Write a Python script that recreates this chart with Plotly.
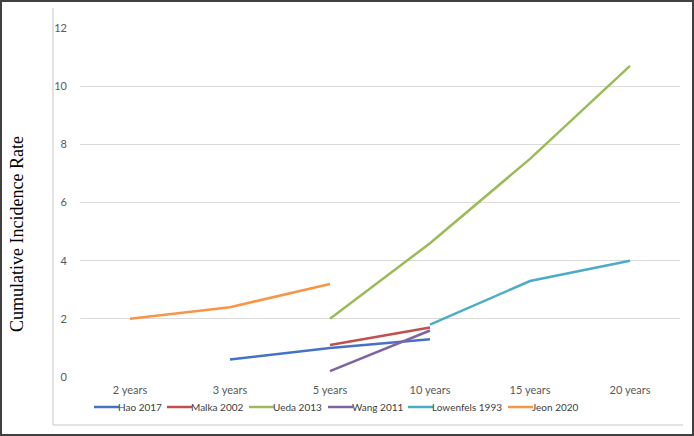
import plotly.graph_objects as go

categories = ["2 years", "3 years", "5 years", "10 years", "15 years", "20 years"]

hao_2017 = [None, 0.6, 1.0, 1.3, None, None]
malka_2002 = [None, None, 1.1, 1.7, None, None]
ueda_2013 = [None, None, 2.0, 4.6, 7.5, 10.7]
wang_2011 = [None, None, 0.2, 1.6, None, None]
lowenfels_1993 = [None, None, None, 1.8, 3.3, 4.0]
jeon_2020 = [2.0, 2.4, 3.2, None, None, None]

series = [
    ("Hao 2017", hao_2017, "#4472C4"),
    ("Malka 2002", malka_2002, "#C0504D"),
    ("Ueda 2013", ueda_2013, "#9BBB59"),
    ("Wang 2011", wang_2011, "#8064A2"),
    ("Lowenfels 1993", lowenfels_1993, "#4BACC6"),
    ("Jeon 2020", jeon_2020, "#F79646"),
]

# left edge (px) of each legend entry, as laid out in the original
legend_x = [94, 167, 249, 328, 408, 508]

W, H = 694, 436
L, R, T, B = 80, 14, 28, 59
pw, ph = W - L - R, H - T - B


def px(x):
    return (x - L) / pw


def py(y):
    return (H - B - y) / ph


fig = go.Figure()
for name, vals, color in series:
    fig.add_trace(go.Scatter(x=categories, y=vals, name=name, mode="lines",
                             line=dict(color=color, width=2.5), connectgaps=False,
                             showlegend=False))

fig.update_layout(
    width=W, height=H,
    margin=dict(l=L, r=R, t=T, b=B, autoexpand=False),
    plot_bgcolor="white", paper_bgcolor="white",
    font=dict(family="Lato, Open Sans, sans-serif", size=11, color="#595959"),
)
fig.update_xaxes(type="category", range=[-0.5, 5.5], showgrid=False, showline=False,
                 zeroline=False, ticks="", ticklabelstandoff=5)
fig.update_yaxes(range=[0, 12], dtick=2, showgrid=True, gridcolor="#D9D9D9", gridwidth=1,
                 zeroline=False, showline=False, ticks="", ticklabelstandoff=12)

fig.add_annotation(text="Cumulative Incidence Rate", xref="paper", yref="paper",
                   x=px(17), y=py(234), xanchor="center", yanchor="middle",
                   textangle=-90, showarrow=False,
                   font=dict(family="Liberation Serif, Times New Roman, serif", size=18,
                             color="#000000"))

# hand-placed legend row under the category labels
for (name, vals, color), lx in zip(series, legend_x):
    fig.add_shape(type="line", xref="paper", yref="paper", x0=px(lx), x1=px(lx + 25),
                  y0=py(407), y1=py(407), line=dict(color=color, width=2.5))
    fig.add_annotation(text=name, xref="paper", yref="paper", x=px(lx + 25), y=py(407),
                       xanchor="left", yanchor="middle", showarrow=False, xshift=-3,
                       font=dict(size=10, color="#404040"))

# outer dark frame and inner light chart-area edges
fig.add_shape(type="rect", xref="paper", yref="paper", x0=px(1), x1=px(693), y0=py(435), y1=py(1),
              line=dict(color="#404040", width=2), layer="below")
fig.add_shape(type="line", xref="paper", yref="paper", x0=px(53), x1=px(53), y0=py(425), y1=py(8),
              line=dict(color="#D9D9D9", width=1.5))
fig.add_shape(type="line", xref="paper", yref="paper", x0=px(53), x1=px(683), y0=py(425), y1=py(425),
              line=dict(color="#D9D9D9", width=1.5))

fig.write_html("out.html", config={"displayModeBar": False},
               post_script="document.body.style.margin='0';")
